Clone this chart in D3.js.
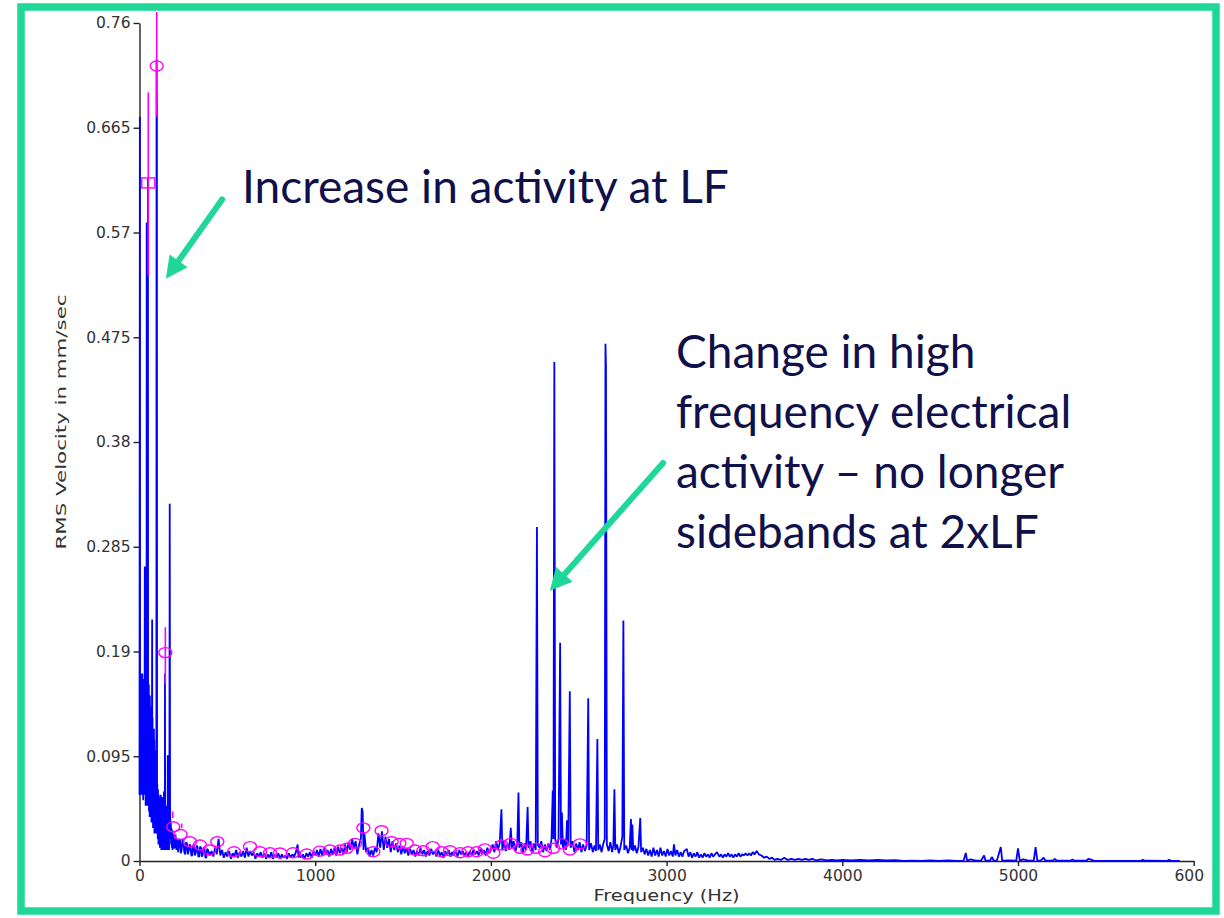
<!DOCTYPE html>
<html lang="en">
<head>
    <meta charset="UTF-8">
    <title>RMS Velocity spectrum</title>
    <script src="https://cdn.jsdelivr.net/npm/d3@7"></script>
    <style>
        body { margin: 0; background: #fff; }
    </style>
</head>
<body>
</body>
<script>
    const width = 1224;
    const height = 918;

    // axis ticks
    const yTicks = [0, 0.095, 0.19, 0.285, 0.38, 0.475, 0.57, 0.665, 0.76];
    const xTicks = [0, 1000, 2000, 3000, 4000, 5000, 6000];

    // current spectrum (blue), [Hz, mm/sec]
    const currentSpectrum = [
        [0,0.06],[2,0.675],[3,0.10],[4,0.17],[5,0.07],[6,0.165],[7,0.06],[8,0.16],[9,0.08],[10,0.17],
        [11,0.06],[12,0.15],[13,0.07],[14,0.16],[15,0.065],[16,0.17],[17,0.06],[18,0.165],[19,0.07],[20,0.16],
        [21,0.055],[22,0.15],[23,0.07],[24,0.16],[25,0.06],[26,0.165],[27,0.07],[28,0.15],[29,0.09],[30,0.267],
        [31,0.08],[32,0.17],[33,0.06],[34,0.16],[35,0.05],[36,0.15],[37,0.06],[38,0.155],[39,0.05],[40,0.09],
        [41,0.579],[42,0.07],[43,0.16],[44,0.05],[45,0.15],[46,0.06],[47,0.2],[48,0.62],[49,0.12],[50,0.05],
        [51,0.15],[52,0.05],[53,0.16],[54,0.045],[55,0.15],[56,0.05],[57,0.14],[58,0.04],[59,0.15],[60,0.05],
        [61,0.14],[62,0.04],[63,0.14],[64,0.045],[65,0.13],[66,0.04],[67,0.13],[68,0.035],[69,0.12],[70,0.04],
        [72,0.219],[73,0.04],[74,0.13],[75,0.035],[76,0.12],[77,0.03],[78,0.12],[79,0.035],[80,0.11],[81,0.03],
        [82,0.12],[83,0.03],[84,0.11],[85,0.025],[86,0.1],[87,0.03],[88,0.1],[89,0.025],[90,0.09],[91,0.03],
        [92,0.08],[93,0.025],[94,0.07],[95,0.03],[96,0.05],[97,0.727],[99,0.68],[100,0.03],[101,0.07],[102,0.025],
        [103,0.06],[104,0.02],[105,0.065],[106,0.02],[107,0.055],[108,0.015],[109,0.06],[110,0.02],[111,0.05],[112,0.015],
        [113,0.058],[114,0.02],[115,0.05],[116,0.012],[117,0.055],[118,0.015],[119,0.05],[120,0.012],[121,0.06],[122,0.015],
        [123,0.045],[124,0.01],[125,0.05],[126,0.015],[127,0.045],[128,0.01],[129,0.05],[130,0.012],[131,0.058],[132,0.015],
        [133,0.045],[134,0.01],[135,0.05],[136,0.012],[137,0.045],[138,0.01],[139,0.063],[140,0.012],[141,0.045],[142,0.01],
        [143,0.05],[144,0.012],[145,0.17],[146,0.03],[147,0.04],[148,0.012],[149,0.05],[150,0.01],[151,0.045],[152,0.012],
        [153,0.05],[154,0.01],[155,0.04],[156,0.012],[157,0.045],[158,0.01],[159,0.05],[160,0.015],[161,0.096],[162,0.012],
        [163,0.05],[164,0.01],[165,0.055],[166,0.015],[167,0.045],[168,0.01],[169,0.05],[170,0.035],[172,0.324],[174,0.05],
        [176,0.02],[178,0.035],[180,0.015],[182,0.03],[184,0.012],[186,0.028],[188,0.01],[190,0.025],[195,0.012],
        [200,0.012],[205,0.024],[210,0.01],[215,0.02],[220,0.008],[225,0.018],[230,0.02],[235,0.007],[240,0.01],[245,0.02],[250,0.018],[255,0.008],[260,0.006],[265,0.017],[270,0.016],[275,0.006],[280,0.009],[285,0.015],[290,0.014],
        [295,0.005],[300,0.005],[305,0.014],[310,0.015],[315,0.005],[320,0.007],[325,0.014],[330,0.013],[335,0.004],[340,0.004],[345,0.013],[350,0.012],[355,0.004],[360,0.006],[365,0.012],[370,0.011],[375,0.003],[380,0.003],[385,0.011],[390,0.01],
        [400,0.005],[410,0.009],[420,0.004],[430,0.012],[440,0.006],[450,0.02],[460,0.005],[470,0.01],[480,0.003],[490,0.008],
        [500,0.004],[510,0.009],[520,0.002],[530,0.007],[540,0.004],[550,0.01],[560,0.003],[570,0.008],[580,0.004],[590,0.009],
        [600,0.003],[610,0.012],[620,0.004],[630,0.009],[640,0.005],[650,0.008],[660,0.002],[670,0.007],[680,0.004],[690,0.008],
        [700,0.003],[710,0.007],[720,0.002],[730,0.006],[740,0.003],[750,0.008],[760,0.002],[770,0.006],[780,0.003],[790,0.007],
        [800,0.002],[810,0.006],[820,0.003],[830,0.005],[840,0.002],[850,0.007],[860,0.003],[870,0.006],[880,0.004],[890,0.008],
        [900,0.015],[905,0.003],[910,0.007],[920,0.003],[930,0.006],[940,0.002],[950,0.007],[960,0.004],[970,0.008],[980,0.003],
        [990,0.009],[1000,0.005],[1010,0.01],[1020,0.004],[1030,0.011],[1040,0.005],[1050,0.012],[1060,0.006],[1070,0.01],[1080,0.004],
        [1090,0.011],[1100,0.006],[1110,0.012],[1120,0.005],[1130,0.013],[1140,0.007],[1150,0.012],[1160,0.006],[1170,0.015],[1180,0.008],
        [1190,0.017],[1200,0.01],[1210,0.02],[1220,0.012],[1230,0.018],[1240,0.006],[1250,0.015],[1260,0.02],[1265,0.048],[1270,0.045],
        [1275,0.01],[1280,0.025],[1290,0.008],[1300,0.012],[1310,0.004],[1320,0.01],[1330,0.005],[1340,0.012],[1350,0.008],[1360,0.025],
        [1370,0.012],[1380,0.027],[1390,0.01],[1400,0.022],[1410,0.012],[1420,0.02],[1430,0.008],[1440,0.018],[1450,0.01],[1460,0.016],
        [1470,0.008],[1480,0.014],[1490,0.006],[1500,0.013],[1510,0.007],[1520,0.012],[1530,0.005],[1540,0.011],[1550,0.006],[1560,0.01],
        [1570,0.004],[1580,0.009],[1590,0.005],[1600,0.012],[1610,0.006],[1620,0.01],[1630,0.004],[1640,0.009],[1650,0.005],[1660,0.011],
        [1670,0.006],[1680,0.009],[1690,0.004],[1700,0.01],[1710,0.005],[1720,0.008],[1730,0.003],[1740,0.009],[1750,0.005],[1760,0.01],
        [1770,0.004],[1780,0.008],[1790,0.005],[1800,0.009],[1810,0.004],[1820,0.01],[1830,0.006],[1840,0.009],[1850,0.005],[1860,0.008],
        [1870,0.004],[1880,0.009],[1890,0.005],[1900,0.01],[1910,0.006],[1920,0.009],[1930,0.005],[1940,0.011],[1950,0.006],[1960,0.01],
        [1970,0.005],[1980,0.012],[1990,0.007],[2000,0.01],[2010,0.015],[2020,0.008],[2030,0.018],[2040,0.01],[2050,0.016],[2060,0.047],
        [2065,0.01],[2075,0.018],[2085,0.009],[2095,0.016],[2105,0.01],[2113,0.03],[2120,0.012],[2130,0.018],[2140,0.009],[2150,0.015],
        [2157,0.062],[2162,0.012],[2172,0.017],[2182,0.008],[2192,0.016],[2200,0.01],[2209,0.049],[2214,0.012],[2225,0.018],[2235,0.008],
        [2245,0.016],[2255,0.01],[2262,0.303],[2267,0.015],[2277,0.012],[2287,0.018],[2297,0.008],[2307,0.015],[2317,0.009],[2327,0.016],
        [2337,0.01],[2345,0.02],[2352,0.064],[2356,0.02],[2361,0.4525],[2366,0.02],[2375,0.012],[2385,0.02],[2394,0.198],[2399,0.015],
        [2404,0.044],[2410,0.012],[2420,0.02],[2427,0.01],[2433,0.037],[2440,0.015],[2449,0.154],[2454,0.012],[2465,0.018],[2475,0.008],
        [2485,0.016],[2495,0.01],[2505,0.017],[2515,0.008],[2525,0.015],[2535,0.009],[2545,0.014],[2554,0.1475],[2559,0.01],[2570,0.016],
        [2580,0.008],[2590,0.014],[2598,0.009],[2606,0.1106],[2611,0.01],[2620,0.015],[2630,0.008],[2640,0.016],[2648,0.02],[2652,0.469],
        [2655,0.448],[2660,0.015],[2670,0.009],[2680,0.017],[2690,0.008],[2697,0.014],[2703,0.065],[2708,0.01],[2718,0.015],[2728,0.007],
        [2738,0.013],[2748,0.022],[2754,0.218],[2759,0.01],[2770,0.014],[2780,0.007],[2790,0.012],[2797,0.038],[2801,0.01],[2805,0.033],
        [2810,0.009],[2820,0.014],[2830,0.007],[2840,0.013],[2850,0.039],[2855,0.008],[2865,0.012],[2875,0.006],[2885,0.011],[2895,0.005],
        [2905,0.01],[2915,0.004],[2925,0.012],[2935,0.005],[2945,0.01],[2955,0.004],[2965,0.012],[2975,0.005],[2985,0.009],[2995,0.004],
        [3005,0.011],[3015,0.005],[3025,0.009],[3035,0.004],[3042,0.015],[3050,0.005],[3060,0.01],[3070,0.004],[3080,0.008],[3090,0.004],
        [3100,0.009],[3115,0.011],[3125,0.004],[3135,0.008],[3145,0.003],[3155,0.007],[3165,0.004],[3175,0.008],[3185,0.003],[3195,0.006],
        [3205,0.003],[3215,0.007],[3225,0.004],[3235,0.006],[3245,0.003],[3255,0.007],[3265,0.004],[3275,0.006],[3287,0.008],[3300,0.004],
        [3310,0.006],[3320,0.003],[3330,0.006],[3340,0.004],[3350,0.007],[3360,0.004],[3370,0.006],[3380,0.003],[3390,0.006],[3400,0.004],
        [3410,0.007],[3420,0.004],[3430,0.006],[3440,0.005],[3450,0.007],[3460,0.005],[3470,0.007],[3480,0.005],[3490,0.008],[3500,0.006],
        [3513,0.009],[3525,0.006],[3540,0.005],[3555,0.003],[3570,0.004],[3585,0.002],[3600,0.003],[3615,0.001],[3630,0.002],[3650,0.001],
        [3670,0.003],[3690,0.001],[3710,0.002],[3730,0.001],[3750,0.002],[3770,0.001],[3790,0.002],[3810,0.001],[3830,0.002],[3850,0.0005],
        [3880,0.0015],[3910,0.0005],[3940,0.001],[3970,0.0005],[4000,0.001],[4050,0.0005],[4100,0.001],[4150,0.0005],[4200,0.001],[4250,0.0005],
        [4300,0.0008],[4350,0.0002],[4400,0.0004],[4450,0.0002],[4500,0.0005],[4550,0.0002],[4600,0.0006],[4650,0.0002],[4690,0.0003],[4703,0.0073],
        [4710,0.0003],[4730,0.0015],[4760,0.0003],[4790,0.0005],[4807,0.005],[4815,0.0004],[4840,0.0004],[4853,0.0036],[4860,0.0004],[4880,0.0005],
        [4902,0.0127],[4910,0.0004],[4950,0.0005],[4990,0.0004],[5000,0.0115],[5010,0.0005],[5030,0.0015],[5060,0.0004],[5090,0.0004],[5100,0.0127],
        [5110,0.0004],[5130,0.0005],[5146,0.003],[5155,0.0004],[5200,0.0005],[5210,0.002],[5220,0.0004],[5300,0.0003],[5310,0.0015],[5320,0.0003],
        [5390,0.0003],[5400,0.002],[5420,0.001],[5430,0.0003],[5500,0.0002],[5600,0.0002],[5700,0.0003],[5710,0.0012],[5720,0.0003],[5850,0.0002],
        [5860,0.0012],[5870,0.0002],[5920,0.0002]
    ];

    // previous spectrum peaks (magenta), [Hz, low, high]
    const previousPeaks = [
        [50, 0.531, 0.697],
        [98, 0.675, 0.77],
        [147, 0.161, 0.212],
        [189, 0.039, 0.045],
        [240, 0.030, 0.034]
    ];

    // magenta markers, [Hz, mm/sec, shape]
    const previousMarkers = [
        [50,0.615,"square"],[98,0.721,"circle"],[147,0.189,"circle"],
        [192,0.031,"circle"],[234,0.024,"circle"],[287,0.0175,"circle"],[344,0.0145,"circle"],[397,0.010,"circle"],
        [443,0.0175,"circle"],[538,0.0084,"circle"],[629,0.013,"circle"],[686,0.0084,"circle"],[743,0.0075,"circle"],
        [800,0.0073,"circle"],[874,0.0075,"circle"],[952,0.0063,"circle"],[1027,0.009,"circle"],[1084,0.010,"circle"],
        [1141,0.010,"circle"],[1179,0.0115,"circle"],[1227,0.016,"circle"],[1274,0.030,"circle"],[1331,0.0084,"circle"],
        [1378,0.0275,"circle"],[1435,0.0175,"circle"],[1479,0.016,"circle"],[1521,0.016,"circle"],[1568,0.010,"circle"],
        [1615,0.0093,"circle"],[1669,0.013,"circle"],[1720,0.0084,"circle"],[1767,0.0093,"circle"],[1824,0.0075,"circle"],
        [1871,0.0084,"circle"],[1919,0.0084,"circle"],[1966,0.011,"circle"],[2014,0.007,"circle"],[2061,0.0145,"circle"],
        [2113,0.016,"circle"],[2166,0.0115,"circle"],[2207,0.010,"circle"],[2257,0.0115,"circle"],[2308,0.0084,"circle"],
        [2355,0.0115,"circle"],[2403,0.0155,"circle"],[2450,0.010,"circle"],[2507,0.0155,"circle"]
    ];

    // callouts: text lines and arrow [from, to] in data units
    const callouts = [
        { lines: ["Increase in activity at LF"], x: 242, y: 203, arrow: [[470, 0.6], [150, 0.528]] },
        { lines: ["Change in high", "frequency electrical", "activity \u2013 no longer", "sidebands at 2xLF"],
          x: 676, y: 368, arrow: [[2980, 0.361], [2335, 0.245]] }
    ];

    const green = "#1fd796";

    const svg = d3.select("body")
    .append("svg")
        .attr("width", width)
        .attr("height", height);

    const x = d3.scaleLinear().domain([0, 6000]).range([139.5, 1193.7]);
    const y = d3.scaleLinear().domain([0, 0.76]).range([861, 23]);

    svg.append("clipPath").attr("id", "chartClip")
        .append("rect").attr("x", 0).attr("y", 0).attr("width", 1205).attr("height", height);

    const chart = svg.append("g").attr("clip-path", "url(#chartClip)");

    // axes
    const yAxis = chart.append("g")
        .attr("transform", `translate(${x(0)},0)`)
        .call(d3.axisLeft(y).tickValues(yTicks).tickFormat(d => String(d)).tickSize(6).tickSizeOuter(0).tickPadding(3));

    const xAxis = chart.append("g")
        .attr("transform", `translate(0,${y(0)})`)
        .call(d3.axisBottom(x).tickValues(xTicks).tickFormat(d => String(d)).tickSize(5).tickSizeOuter(0).tickPadding(4));

    [yAxis, xAxis].forEach(a => {
        a.selectAll("text")
            .style("font-family", "'DejaVu Sans', sans-serif")
            .style("font-size", "15.5px")
            .attr("fill", "#333");
        a.selectAll("line, path").attr("stroke", "#222").attr("stroke-width", 1.4);
    });

    chart.append("text")
        .attr("transform", `translate(66,${y(0.38) - 20}) rotate(-90)`)
        .attr("text-anchor", "middle")
        .attr("textLength", 255)
        .attr("lengthAdjust", "spacingAndGlyphs")
        .style("font-family", "'DejaVu Sans', sans-serif")
        .style("font-size", "14px")
        .attr("fill", "#333")
        .text("RMS Velocity in mm/sec");

    chart.append("text")
        .attr("x", x(3000))
        .attr("y", 901)
        .attr("text-anchor", "middle")
        .attr("textLength", 146)
        .attr("lengthAdjust", "spacingAndGlyphs")
        .style("font-family", "'DejaVu Sans', sans-serif")
        .style("font-size", "16px")
        .attr("fill", "#333")
        .text("Frequency (Hz)");

    // blue spectrum
    const line = d3.line().x(d => x(d[0])).y(d => y(d[1]));
    chart.append("path")
        .datum(currentSpectrum)
        .attr("d", line)
        .attr("fill", "none")
        .attr("stroke", "#0000ff")
        .attr("stroke-width", 1.8)
        .attr("stroke-linejoin", "bevel");

    // magenta peaks + markers
    chart.append("g")
        .selectAll("line")
        .data(previousPeaks)
        .enter()
        .append("line")
        .attr("x1", d => x(d[0])).attr("x2", d => x(d[0]))
        .attr("y1", d => y(d[1])).attr("y2", d => y(d[2]))
        .attr("stroke", "#ff00ff")
        .attr("stroke-width", 1.6);

    const markers = chart.append("g")
        .attr("fill", "none")
        .attr("stroke", "#ff00ff")
        .attr("stroke-width", 1.4);

    markers.selectAll("ellipse")
        .data(previousMarkers.filter(d => d[2] === "circle"))
        .enter()
        .append("ellipse")
        .attr("cx", d => x(d[0]))
        .attr("cy", d => y(d[1]))
        .attr("rx", 6.5)
        .attr("ry", 5);

    markers.selectAll("rect")
        .data(previousMarkers.filter(d => d[2] === "square"))
        .enter()
        .append("rect")
        .attr("x", d => x(d[0]) - 6.5)
        .attr("y", d => y(d[1]) - 5)
        .attr("width", 13)
        .attr("height", 10);

    // callouts
    callouts.forEach(c => {
        const t = svg.append("text")
            .attr("x", c.x)
            .attr("y", c.y)
            .style("font-family", "Lato, sans-serif")
            .style("font-size", "46px")
            .attr("fill", "#10104a");
        c.lines.forEach((l, i) => {
            t.append("tspan").attr("x", c.x).attr("dy", i === 0 ? 0 : 60).text(l);
        });

        const x0 = x(c.arrow[0][0]), y0 = y(c.arrow[0][1]);
        const x1 = x(c.arrow[1][0]), y1 = y(c.arrow[1][1]);
        const ang = Math.atan2(y1 - y0, x1 - x0);
        const headLen = 22, headW = 11;
        const bx = x1 - headLen * Math.cos(ang), by = y1 - headLen * Math.sin(ang);
        svg.append("line")
            .attr("x1", x0).attr("y1", y0)
            .attr("x2", bx).attr("y2", by)
            .attr("stroke", green)
            .attr("stroke-width", 6)
            .attr("stroke-linecap", "round");
        svg.append("polygon")
            .attr("points", [
                [x1, y1],
                [bx + headW * Math.sin(ang), by - headW * Math.cos(ang)],
                [bx - headW * Math.sin(ang), by + headW * Math.cos(ang)]
            ].map(p => p.join(",")).join(" "))
            .attr("fill", green);
    });

    // frame
    svg.append("rect")
        .attr("x", 21)
        .attr("y", 7)
        .attr("width", 1195)
        .attr("height", 904)
        .attr("fill", "none")
        .attr("stroke", green)
        .attr("stroke-width", 7.5);
</script>
</html>
